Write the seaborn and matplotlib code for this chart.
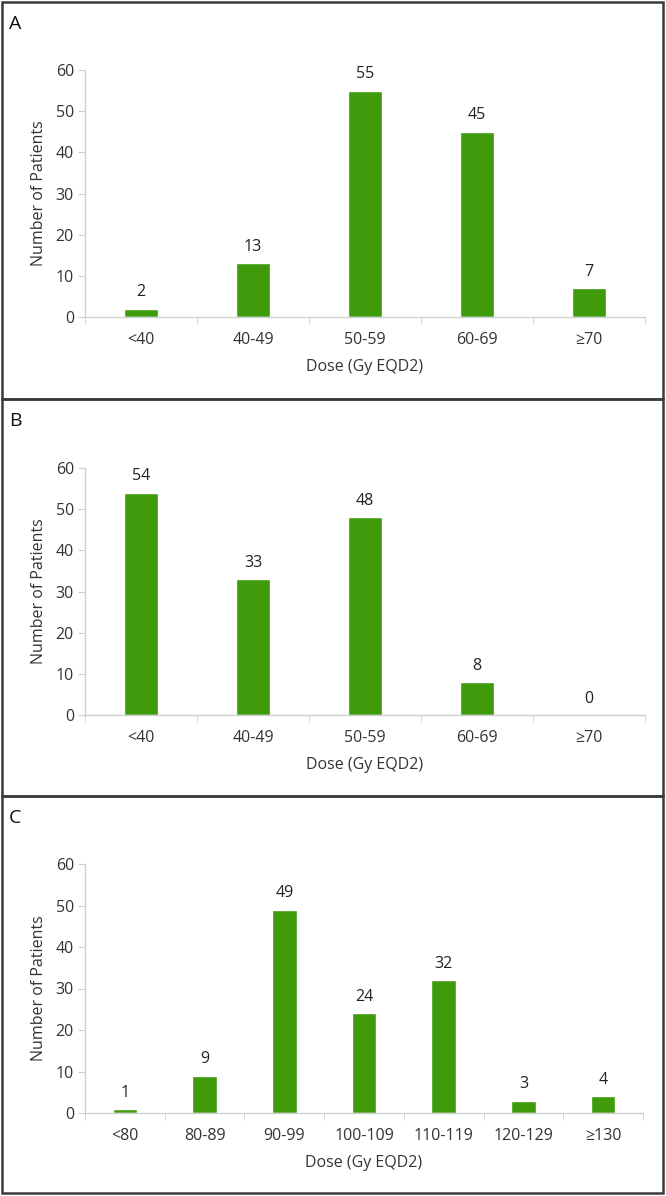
import matplotlib
matplotlib.use("Agg")
import matplotlib.pyplot as plt
from matplotlib.patches import Rectangle
import seaborn as sns

# data
cats_a = ['<40', '40-49', '50-59', '60-69', '≥70']
patients_a = [2, 13, 55, 45, 7]

cats_b = ['<40', '40-49', '50-59', '60-69', '≥70']
patients_b = [54, 33, 48, 8, 0]

cats_c = ['<80', '80-89', '90-99', '100-109', '110-119', '120-129', '≥130']
patients_c = [1, 9, 49, 24, 32, 3, 4]

sns.set_style("white")
plt.rcParams['font.family'] = ['Open Sans', 'DejaVu Sans']

W, H = 666, 1196
GREEN = '#3f9a0c'
AXIS_GRAY = '#d0d0d0'
TXT = '#333333'
FS = 11.5
fig = plt.figure(figsize=(W / 100, H / 100), dpi=100)


def px_axes(left, right, y0, y60):
    # axes rectangle from pixel positions (y measured from top)
    return fig.add_axes([left / W, 1 - y0 / H, (right - left) / W, (y0 - y60) / H])


def draw_panel(ax, cats, vals):
    sns.barplot(x=cats, y=vals, color=GREEN, width=0.31, saturation=1, ax=ax)
    ax.bar_label(ax.containers[0], padding=6, fontsize=FS, color='#222222')
    ax.set_ylim(0, 60)
    ax.set_yticks(range(0, 61, 10))
    ax.set_xlim(-0.5, len(cats) - 0.5)
    for side in ['top', 'right']:
        ax.spines[side].set_visible(False)
    for side in ['left', 'bottom']:
        ax.spines[side].set_color(AXIS_GRAY)
        ax.spines[side].set_linewidth(1)
    ax.tick_params(axis='y', length=5, color=AXIS_GRAY, labelsize=FS, labelcolor=TXT, pad=3, left=True)
    ax.tick_params(axis='x', which='major', length=0, labelsize=FS, labelcolor=TXT, pad=11)
    ax.set_xticks([i - 0.5 for i in range(len(cats) + 1)], minor=True)
    ax.tick_params(axis='x', which='minor', length=5, color=AXIS_GRAY, bottom=True)
    ax.set_ylabel('Number of Patients', fontsize=FS, color=TXT, labelpad=6)
    ax.set_xlabel('Dose (Gy EQD2)', fontsize=FS, color=TXT, labelpad=8)


ax_a = px_axes(85, 645, 317, 70)
draw_panel(ax_a, cats_a, patients_a)
ax_b = px_axes(85, 645, 715, 468)
draw_panel(ax_b, cats_b, patients_b)
ax_c = px_axes(85, 643, 1113, 864)
draw_panel(ax_c, cats_c, patients_c)

# panel frames and letters
for top, bottom, letter in [(2, 399, 'A'), (399, 796, 'B'), (796, 1193, 'C')]:
    fig.patches.append(Rectangle((2 / W, 1 - bottom / H), (663 - 2) / W, (bottom - top) / H,
                                 transform=fig.transFigure, fill=False,
                                 edgecolor='#3a3a3a', linewidth=1.8))
    fig.text(9 / W, 1 - (top + 22) / H, letter, fontsize=14, color='#111111', va='center')

fig.savefig('out.png', dpi=100)
